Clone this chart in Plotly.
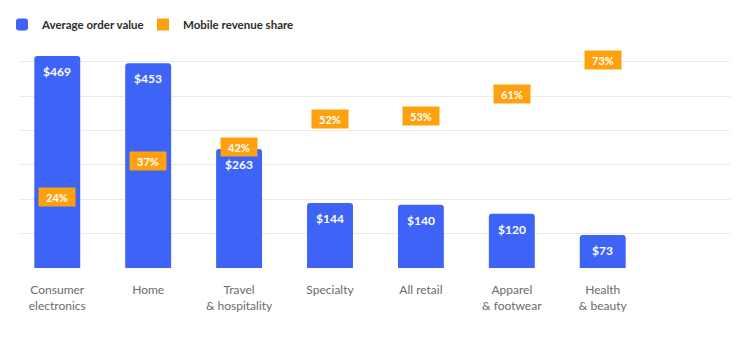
import plotly.graph_objects as go

categories = ["Consumer<br>electronics", "Home", "Travel<br>& hospitality", "Specialty",
              "All retail", "Apparel<br>& footwear", "Health<br>& beauty"]
avg_order_value = [469, 453, 263, 144, 140, 120, 73]
mobile_share = [24, 37, 42, 52, 53, 61, 73]

BLUE = "#3D63F7"
ORANGE = "#FFA10F"
FONT = "Lato"

x = list(range(len(categories)))

fig = go.Figure()
fig.add_trace(go.Bar(
    x=x, y=avg_order_value, name="Average order value", legend="legend",
    marker=dict(color=BLUE, line=dict(width=0)), width=0.505,
    hoverinfo="skip",
))
fig.add_trace(go.Scatter(
    x=x, y=mobile_share, name="Mobile revenue share", yaxis="y2", legend="legend2",
    mode="markers", marker=dict(symbol="square", color=ORANGE, size=0.1),
    hoverinfo="skip",
))

annotations = []
for xi, v in zip(x, avg_order_value):
    annotations.append(dict(
        x=xi, y=v, xref="x", yref="y", text=f"<b>${v}</b>", showarrow=False,
        yshift=-15.7, font=dict(family=FONT, size=12, color="white"),
    ))
for xi, p in zip(x, mobile_share):
    annotations.append(dict(
        x=xi, y=p, xref="x", yref="y2", text=f"<b>{p}%</b>", showarrow=False,
        bgcolor=ORANGE, width=36, height=18, borderpad=0, yshift=2.5,
        font=dict(family=FONT, size=11, color="white"),
    ))

legend_common = dict(
    orientation="h", xref="container", yref="container",
    y=1 - 10 / 338, xanchor="left", yanchor="top",
    bgcolor="rgba(0,0,0,0)",
    font=dict(family=FONT, size=11.5, color="#2c2c2c", weight="bold"),
    itemsizing="constant",
)

fig.update_layout(
    width=750, height=338,
    margin=dict(l=20, r=20, t=50, b=70),
    paper_bgcolor="white", plot_bgcolor="white",
    barcornerradius=3,
    font=dict(family=FONT, size=12, color="#6b6b6b"),
    showlegend=True,
    legend=dict(x=2 / 750, **legend_common),
    legend2=dict(x=143 / 750, **legend_common),
    xaxis=dict(
        range=[-0.41, 7.4], tickmode="array", tickvals=x, ticktext=categories,
        showgrid=False, zeroline=False, showline=False, ticks="",
        ticklabelstandoff=13,
        tickfont=dict(family=FONT, size=12, color="#6b6b6b"),
    ),
    yaxis=dict(
        range=[0, 480], tick0=0, dtick=76, showgrid=True, gridcolor="#ebebeb",
        gridwidth=1, zeroline=False, showticklabels=False, ticks="",
    ),
    yaxis2=dict(
        range=[-0.7, 77.25], overlaying="y", side="right", showgrid=False,
        zeroline=False, showticklabels=False, ticks="", visible=False,
    ),
    annotations=annotations,
)

fig.write_html("out.html")
